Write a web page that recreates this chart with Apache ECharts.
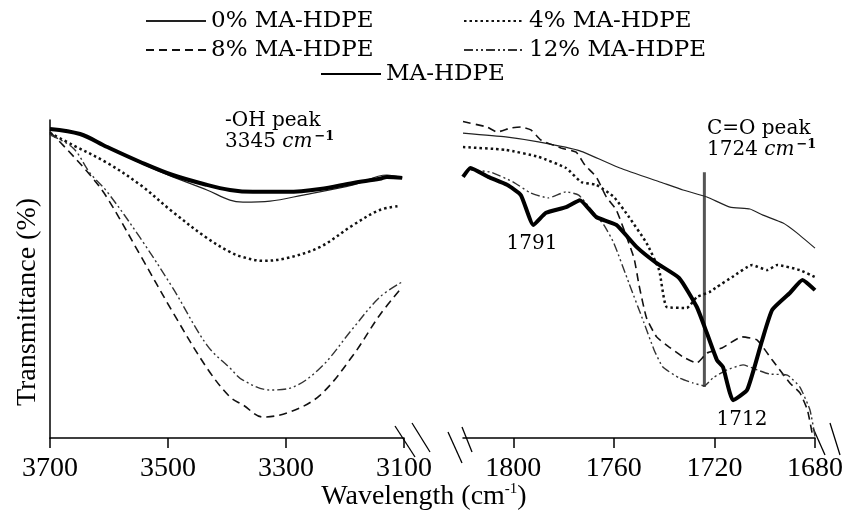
<!DOCTYPE html>
<html><head><meta charset="utf-8">
<script src="https://cdn.jsdelivr.net/npm/echarts@6/dist/echarts.min.js"></script>
<style>html,body{margin:0;padding:0;background:#fff}#c{width:861px;height:520px}</style>
</head><body><div id="c"></div>
<script>
const seriesNames = ['0% MA-HDPE', '4% MA-HDPE', '8% MA-HDPE', '12% MA-HDPE', 'MA-HDPE'];
const ohTicks = [3100, 3300, 3500, 3700];
const coTicks = [1680, 1720, 1760, 1800];

// -OH region: [wavenumber, transmittance]
const oh0 = [[3700,97.2],[3649,95.6],[3603,91.5],[3547,86.5],[3492,82.1],[3434,78.0],[3395,74.8],[3373,74.2],[3327,74.5],[3271,76.4],[3186,79.6],[3129,82.7],[3103,81.8]];
const oh4 = [[3700,95.9],[3661,92.1],[3603,86.5],[3547,79.6],[3492,71.1],[3434,62.9],[3395,58.5],[3373,56.9],[3339,55.7],[3298,56.6],[3242,60.1],[3186,67.0],[3141,71.7],[3107,73.0]];
const oh8 = [[3700,96.2],[3678,92.1],[3632,82.7],[3603,75.5],[3547,57.5],[3492,39.6],[3434,22.0],[3395,12.9],[3373,10.4],[3339,6.6],[3293,8.2],[3242,13.5],[3186,26.1],[3141,38.7],[3103,47.5]];
const oh12 = [[3700,95.3],[3661,91.2],[3632,83.3],[3603,77.4],[3547,62.9],[3492,47.2],[3434,29.2],[3395,22.0],[3373,18.2],[3327,15.1],[3293,15.7],[3242,22.0],[3186,34.6],[3141,44.3],[3103,49.1]];
const ohMA = [[3700,97.2],[3649,95.6],[3603,91.5],[3547,86.8],[3492,82.7],[3434,79.6],[3395,78.0],[3356,77.4],[3298,77.4],[3242,78.3],[3186,80.2],[3141,81.5],[3129,82.1],[3103,81.8]];

// C=O region: [wavenumber, transmittance]
const co0 = [[1820,95.9],[1803,94.7],[1790,93.1],[1773.5,90.3],[1757.6,84.9],[1740.5,80.2],[1732.5,78.0],[1723,75.8],[1713.8,72.6],[1705.9,72.0],[1700.7,70.1],[1692.7,67.6],[1687.2,64.5],[1680,59.7]];
const co4 = [[1820,91.5],[1803,90.6],[1790,88.4],[1779,84.9],[1773,80.5],[1767,79.6],[1760,75.8],[1754,69.5],[1747,61.3],[1742,52.8],[1739,41.2],[1731,40.9],[1727,44.3],[1722,45.9],[1719,47.5],[1713,50.6],[1705,54.4],[1699,52.8],[1695,54.4],[1686,52.8],[1680,50.6]];
const co8 = [[1820,99.5],[1810.5,97.8],[1806.5,96.2],[1801,97.5],[1797,97.8],[1793,96.9],[1789,93.7],[1781,91.2],[1775,89.9],[1771.5,85.8],[1767,82.1],[1763,75.8],[1759,71.7],[1752,56.6],[1750,48.1],[1747,37.7],[1743,31.8],[1738,28.6],[1732.5,25.5],[1727,23.6],[1723,26.7],[1717,28.3],[1709,31.8],[1703,30.8],[1697,24.5],[1690,17.3],[1686,14.2],[1683,8.8],[1681,0.9]];
const co12 = [[1817,84.3],[1809,83.6],[1800,80.5],[1793,77.0],[1786,75.5],[1779,77.4],[1774,76.4],[1769.5,72.3],[1764,67.0],[1760,61.3],[1754,48.7],[1748,36.2],[1744,27.7],[1740.5,22.3],[1734,18.9],[1728.5,17.3],[1724,16.4],[1720.6,18.9],[1715,21.4],[1708.6,23.0],[1703,21.4],[1698,20.1],[1691,19.8],[1686,16.0],[1682,8.8],[1680,0.5]];
const coMA = [[1820,82.1],[1817,84.9],[1810,82.1],[1802.5,79.6],[1797,76.4],[1792,67.0],[1787,70.8],[1779,72.6],[1773.5,74.8],[1767,69.5],[1759,67.0],[1751,60.1],[1743,55.0],[1734,50.3],[1727,41.2],[1723,33.0],[1719,24.5],[1716.6,22.3],[1712.6,11.9],[1707,15.1],[1701,30.8],[1697,40.3],[1690,45.6],[1685,49.7],[1680,46.5]];

const coPeakLine = [[1724,16.0],[1724,83.6]];

const styles = {
  '0% MA-HDPE':  {color:'#222', width:1.2, type:'solid'},
  '4% MA-HDPE':  {color:'#111', width:2.5, type:[2.5,3]},
  '8% MA-HDPE':  {color:'#111', width:1.6, type:[8,5]},
  '12% MA-HDPE': {color:'#333', width:1.4, type:[9,3,2,3,2,3]},
  'MA-HDPE':     {color:'#000', width:4, type:'solid'}
};
const ohData = [oh0, oh4, oh8, oh12, ohMA];
const coData = [co0, co4, co8, co12, coMA];

function mk(name, data, idx) {
  const s = styles[name];
  return {
    type:'line', name: name, xAxisIndex: idx, yAxisIndex: idx, data: data,
    symbol:'none', showSymbol:false, smooth: idx === 0 ? 0.35 : 0.15, silent: true,
    lineStyle:{color:s.color, width:s.width, type:s.type},
    itemStyle:{color:s.color}
  };
}
const series = [];
seriesNames.forEach((n,i) => { series.push(mk(n, ohData[i], 0)); series.push(mk(n, coData[i], 1)); });
series.push({type:'line', xAxisIndex:1, yAxisIndex:1, data: coPeakLine, symbol:'none', silent:true,
  lineStyle:{color:'#555', width:3}, z:1});

const serif = 'Liberation Serif';
const legendText = {fontFamily:'DejaVu Serif', fontSize:23, color:'#000', lineHeight:26};
function lg(name, left, top) {
  return {data:[name], left:left, top:top, padding:0, itemWidth:60, itemHeight:14,
    itemStyle:{opacity:0, borderWidth:0},
    textStyle: legendText, selectedMode:false};
}

const axisLabelStyle = {fontFamily: serif, fontSize: 28, color:'#000', margin: 17, formatter: v => String(v)};
const chart = echarts.init(document.getElementById('c'), null, {renderer:'canvas'});
chart.setOption({
  animation:false,
  backgroundColor:'#fff',
  legend: [lg(seriesNames[0],145,8), lg(seriesNames[1],463,8), lg(seriesNames[2],145,37), lg(seriesNames[3],463,37), lg(seriesNames[4],320,61)],
  grid: [{left:50, top:120, width:354, height:318}, {left:463, top:120, width:352, height:318}],
  xAxis: [
    {gridIndex:0, type:'value', inverse:true, min:3100, max:3700, interval:200,
     axisLine:{lineStyle:{color:'#000', width:1.5}},
     axisTick:{customValues: ohTicks, length:10, lineStyle:{color:'#000', width:1.5}},
     axisLabel: Object.assign({customValues: ohTicks}, axisLabelStyle),
     splitLine:{show:false}},
    {gridIndex:1, type:'value', inverse:true, min:1680, max:1820, interval:40,
     axisLine:{lineStyle:{color:'#000', width:1.5}},
     axisTick:{customValues: coTicks, length:10, lineStyle:{color:'#000', width:1.5}},
     axisLabel: Object.assign({customValues: coTicks}, axisLabelStyle),
     splitLine:{show:false}}
  ],
  yAxis: [
    {gridIndex:0, type:'value', min:0, max:100, axisLine:{show:true, lineStyle:{color:'#000', width:1.5}},
     axisTick:{show:false}, axisLabel:{show:false}, splitLine:{show:false}},
    {gridIndex:1, type:'value', min:0, max:100, axisLine:{show:false},
     axisTick:{show:false}, axisLabel:{show:false}, splitLine:{show:false}}
  ],
  series: series
});

// decorations: axis break marks, annotations, axis titles
const lE = chart.convertToPixel({xAxisIndex:0}, 3100);
const rS = chart.convertToPixel({xAxisIndex:1}, 1820);
const rE = chart.convertToPixel({xAxisIndex:1}, 1680);
const bY = chart.convertToPixel({yAxisIndex:0}, 0);
function sl(x1,y1,x2,y2){ return {type:'line', shape:{x1:x1,y1:y1,x2:x2,y2:y2}, style:{stroke:'#000', lineWidth:1.3}, silent:true}; }
const ann = {fontFamily:'DejaVu Serif', fontSize:20, fill:'#000'};
const rich = {
  n:{fontFamily:'DejaVu Serif', fontSize:20, lineHeight:24},
  i:{fontFamily:'DejaVu Serif', fontStyle:'italic', fontSize:20, lineHeight:24},
  s:{fontFamily:'DejaVu Serif', fontSize:13, fontWeight:'bold', verticalAlign:'top', lineHeight:24, padding:[0,0,0,2]}
};
function txt(text, x, y, extra){ return {type:'text', silent:true, style:Object.assign({text:text, x:x, y:y}, ann, extra||{})}; }
chart.setOption({graphic: [
  sl(lE-9, bY-12, lE+11, bY+19), sl(lE+8, bY-15, lE+26, bY+14),
  sl(rS-15, bY-6, rS-1, bY+25), sl(rS-1, bY-11, rS+9, bY+14),
  sl(rE-2, bY-10, rE+10, bY+17), sl(rE+15, bY-15, rE+25, bY+17),
  txt('-OH peak', 225, 111),
  txt('{n|3345 }{i|cm}{s|−1}', 225, 130, {rich: rich}),
  txt('C=O peak', 707, 119),
  txt('{n|1724 }{i|cm}{s|−1}', 707, 138, {rich: rich}),
  txt('1791', 532, 234, {align:'center'}),
  txt('1712', 742, 410, {align:'center'}),
  {type:'text', silent:true, x:28, y:302, rotation:Math.PI/2,
   style:{text:'Transmittance (%)', fontFamily:serif, fontSize:28, fill:'#000', align:'center', verticalAlign:'middle'}},
  {type:'text', silent:true,
   style:{x:424, y:497, text:'{a|Wavelength (cm}{b|-1}{a|)}', align:'center', verticalAlign:'middle',
     rich:{a:{fontFamily:serif, fontSize:28, fill:'#000', lineHeight:30},
           b:{fontFamily:serif, fontSize:15, fill:'#000', verticalAlign:'top', lineHeight:30}}}}
]});
</script>
</body></html>
